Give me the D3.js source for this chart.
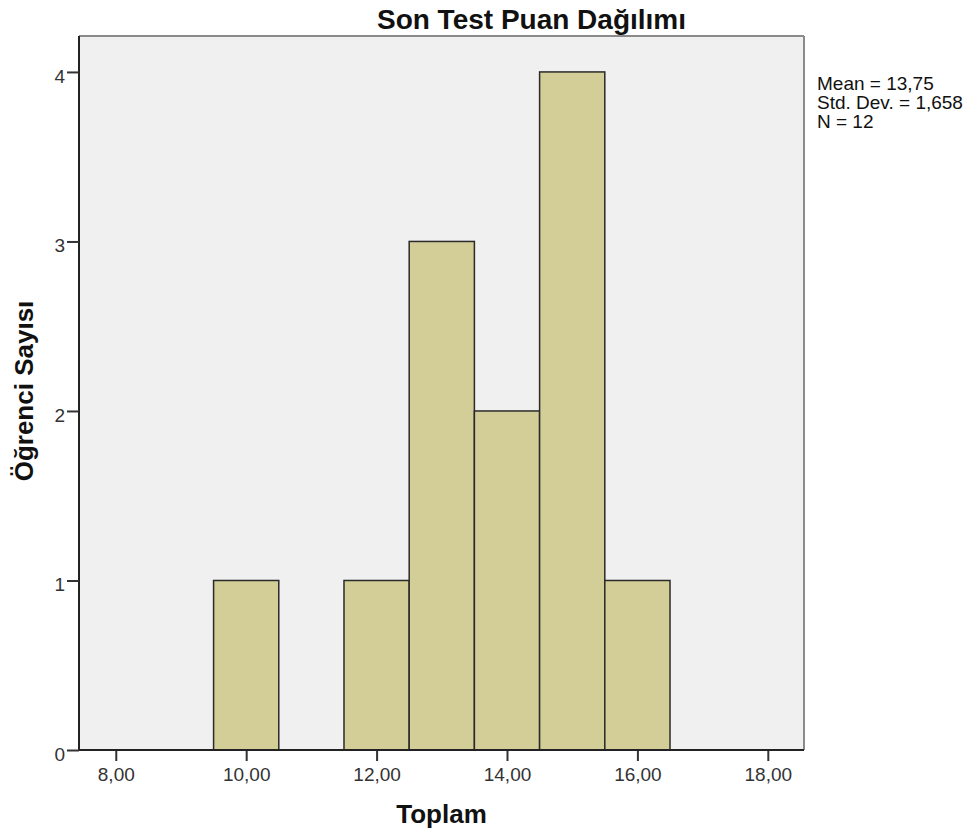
<!DOCTYPE html>
<html><head><meta charset="utf-8">
<script src="https://cdn.jsdelivr.net/npm/d3@7"></script>
<style>body{margin:0;background:#fff;font-family:"Liberation Sans",Arial,sans-serif;}</style>
</head><body>
<svg id="c" width="966" height="834"></svg>
<script>
const binStarts = [9.5, 11.5, 12.5, 13.5, 14.5, 15.5];
const binEnds   = [10.5, 12.5, 13.5, 14.5, 15.5, 16.5];
const counts    = [1, 1, 3, 2, 4, 1];
const xTicks = [8, 10, 12, 14, 16, 18];
const yTicks = [0, 1, 2, 3, 4];
const statsLines = ["Mean = 13,75", "Std. Dev. = 1,658", "N = 12"];

const svg = d3.select("#c");
const L = 79, R = 804, T = 36, B = 750;
const x = d3.scaleLinear().domain([7.436, 18.555]).range([L, R]);
const y = d3.scaleLinear().domain([0, 4.212]).range([B, T]);

svg.append("rect").attr("x", L).attr("y", T).attr("width", R - L).attr("height", B - T).attr("fill", "#f0f0f0");

svg.append("g").selectAll("rect").data(counts).join("rect")
  .attr("x", (d, i) => x(binStarts[i]))
  .attr("width", (d, i) => x(binEnds[i]) - x(binStarts[i]))
  .attr("y", d => y(d))
  .attr("height", d => y(0) - y(d))
  .attr("fill", "#d3ce98").attr("stroke", "#2a2a2a").attr("stroke-width", 1.5);

svg.append("line").attr("x1", L).attr("x2", R).attr("y1", T).attr("y2", T).attr("stroke", "#8a8a8a").attr("stroke-width", 2);
svg.append("line").attr("x1", R).attr("x2", R).attr("y1", T).attr("y2", B).attr("stroke", "#8a8a8a").attr("stroke-width", 2);

const fmt = d => d.toFixed(2).replace(".", ",");
const xa = svg.append("g").attr("transform", `translate(0,${B})`)
  .call(d3.axisBottom(x).tickValues(xTicks).tickFormat(fmt).tickSize(11).tickSizeOuter(0));
const ya = svg.append("g").attr("transform", `translate(${L},0)`)
  .call(d3.axisLeft(y).tickValues(yTicks).tickFormat(d3.format("d")).tickSize(12).tickSizeOuter(0));
[xa, ya].forEach(a => {
  a.select(".domain").attr("stroke", "#222").attr("stroke-width", 2);
  a.selectAll(".tick line").attr("stroke", "#333").attr("stroke-width", 2);
  a.selectAll("text").attr("font-family", "Liberation Sans, Arial, sans-serif").attr("font-size", 19).attr("fill", "#333");
});
xa.select(".domain").attr("d", `M${L},0H${R}`);
ya.select(".domain").attr("d", `M0,${T}V${B}`);
xa.selectAll(".tick line").attr("y1", 1);
xa.selectAll("text").attr("y", 31).attr("dy", 0);
ya.selectAll("text").attr("x", -14).attr("dy", 10.5);

svg.append("text").attr("x", 531.5).attr("y", 29).attr("text-anchor", "middle")
  .attr("font-size", 28).attr("font-weight", "bold").attr("fill", "#111").text("Son Test Puan Dağılımı");
svg.append("text").attr("x", 441.5).attr("y", 823).attr("text-anchor", "middle")
  .attr("font-size", 26).attr("font-weight", "bold").attr("fill", "#111").text("Toplam");
svg.append("text").attr("transform", "translate(33,391) rotate(-90)").attr("text-anchor", "middle")
  .attr("font-size", 26).attr("font-weight", "bold").attr("fill", "#111").text("Öğrenci Sayısı");

svg.append("g").selectAll("text").data(statsLines).join("text")
  .attr("x", 817).attr("y", (d, i) => 90 + i * 19)
  .attr("font-size", 19).attr("fill", "#111").text(d => d);
</script>
</body></html>
